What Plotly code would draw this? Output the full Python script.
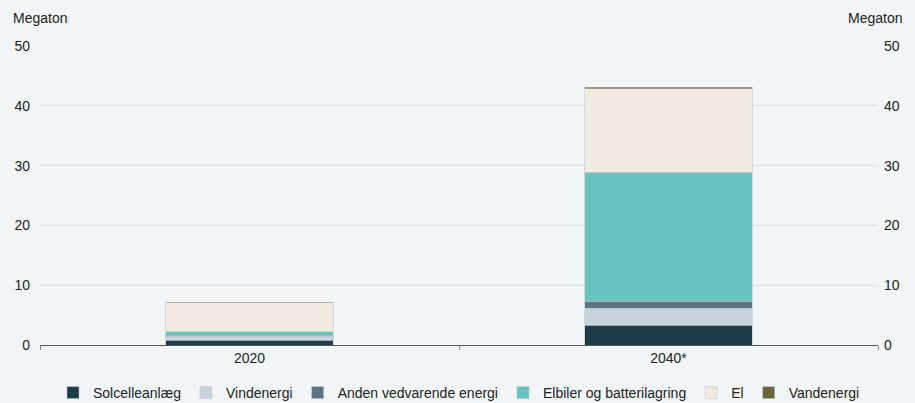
import plotly.graph_objects as go

categories = ["2020", "2040*"]
series_names = ["Solcelleanlæg", "Vindenergi", "Anden vedvarende energi",
                "Elbiler og batterilagring", "El", "Vandenergi"]
solcelle = [0.8, 3.3]
vind = [0.7, 2.85]
anden = [0.15, 1.2]
elbiler = [0.55, 21.5]
el = [4.9, 14.0]
vand = [0.05, 0.25]
series_values = [solcelle, vind, anden, elbiler, el, vand]
colors = ["#1c3c47", "#c8d4db", "#5b7382", "#68c3c0", "#f2ebe0", "#6b6636"]
y_ticks = [0, 10, 20, 30, 40, 50]

FONT = "Liberation Sans, Arial, sans-serif"
BG = "#f2f6f9"

fig = go.Figure()
for name, vals, col in zip(series_names, series_values, colors):
    fig.add_trace(go.Bar(
        x=categories, y=vals, name=name,
        marker=dict(color=col, line=dict(color="rgba(190,195,200,0.7)", width=0.8)),
        width=0.4,
    ))
# invisible trace to activate right axis
fig.add_trace(go.Scatter(x=categories, y=[0, 0], yaxis="y2", mode="markers",
                         marker=dict(opacity=0), showlegend=False, hoverinfo="skip"))

fig.update_layout(
    barmode="stack",
    width=915, height=403,
    paper_bgcolor=BG, plot_bgcolor=BG,
    margin=dict(l=40, r=37, t=46, b=58, autoexpand=False),
    font=dict(family=FONT, size=14, color="#222222"),
    xaxis=dict(
        showline=True, linecolor="#555555", linewidth=1.2,
        ticks="outside", tickson="boundaries", ticklen=4, tickcolor="#888888",
        showgrid=False, tickfont=dict(size=14),
    ),
    yaxis=dict(
        range=[0, 50], tickvals=y_ticks, showgrid=True, gridcolor="#dde2e6",
        gridwidth=1, zeroline=False, ticks="", tickfont=dict(size=14),
        ticklabelstandoff=9,
    ),
    yaxis2=dict(
        range=[0, 50], tickvals=y_ticks, overlaying="y", side="right",
        showgrid=False, zeroline=False, ticks="", tickfont=dict(size=14),
        ticklabelstandoff=5,
    ),
    legend=dict(
        orientation="h", x=0.5, xanchor="center",
        y=-0.107, yanchor="top",
        font=dict(size=14), itemwidth=30, traceorder="normal",
        bgcolor="rgba(0,0,0,0)",
    ),
    annotations=[
        dict(text="Megaton", xref="paper", yref="paper", x=-0.035, y=1.094,
             xanchor="left", yanchor="middle", showarrow=False, font=dict(size=14)),
        dict(text="Megaton", xref="paper", yref="paper", x=1.031, y=1.094,
             xanchor="right", yanchor="middle", showarrow=False, font=dict(size=14)),
    ],
    showlegend=True,
)

fig.write_html("out.html", config={"displayModeBar": False},
               post_script="document.body.style.margin='0';document.body.style.background='%s';" % BG)
